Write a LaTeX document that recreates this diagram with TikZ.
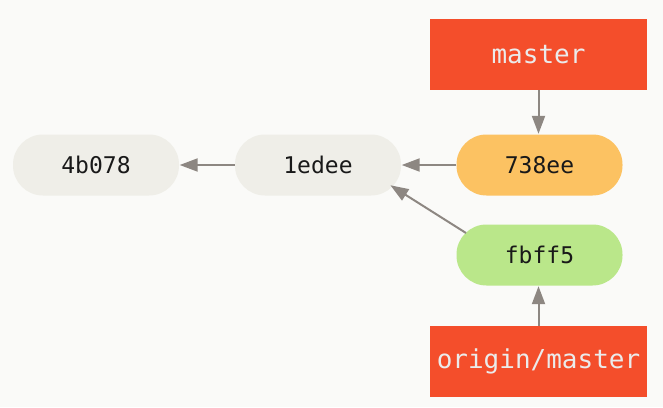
\documentclass[tikz,border=0pt]{standalone}
\usepackage{fontspec}
\setmonofont{DejaVu Sans Mono}
\usetikzlibrary{arrows.meta}
\definecolor{bg}{HTML}{FAFAF8}
\definecolor{cgray}{HTML}{EFEEE8}
\definecolor{corange}{HTML}{FCC262}
\definecolor{cgreen}{HTML}{BAE78A}
\definecolor{cred}{HTML}{F44E2B}
\definecolor{carrow}{HTML}{8D8782}
\tikzset{
  commit/.style={rectangle, rounded corners=30pt, minimum width=166pt, minimum height=61pt,
    inner sep=0pt, font=\ttfamily\fontsize{23}{23}\selectfont, text=black!90},
  refbox/.style={rectangle, fill=cred, minimum width=217pt, minimum height=71pt,
    inner sep=0pt, font=\ttfamily\fontsize{26}{26}\selectfont, text=white!92!black},
  link/.style={draw=carrow, line width=2pt, -{Triangle[length=18pt,width=13pt]}, shorten >=0.5pt}
}
\begin{document}
\begin{tikzpicture}[x=1pt,y=-1pt]
  \fill[bg] (0,0) rectangle (663,407);
  \useasboundingbox (0,0) rectangle (663,407);
  \node[commit, fill=cgray] (c1) at (96,165) {4b078};
  \node[commit, fill=cgray] (c2) at (318,165) {1edee};
  \node[commit, fill=corange] (c3) at (539.5,165) {738ee};
  \node[commit, fill=cgreen] (c4) at (539.5,255) {fbff5};
  \node[refbox] (m) at (538.5,54.5) {master};
  \node[refbox] (om) at (538.5,361.5) {origin/master};
  \coordinate (c4s) at (466,233);
  \coordinate (c2e) at (390,185);
  \draw[link] (c3.west) -- (c2.east);
  \draw[link] (c2.west) -- (c1.east);
  \draw[link] (c4s) -- (c2e);
  \draw[link] (m.south) -- (m.south |- c3.north);
  \draw[link] (om.north) -- (om.north |- c4.south);
\end{tikzpicture}
\end{document}
